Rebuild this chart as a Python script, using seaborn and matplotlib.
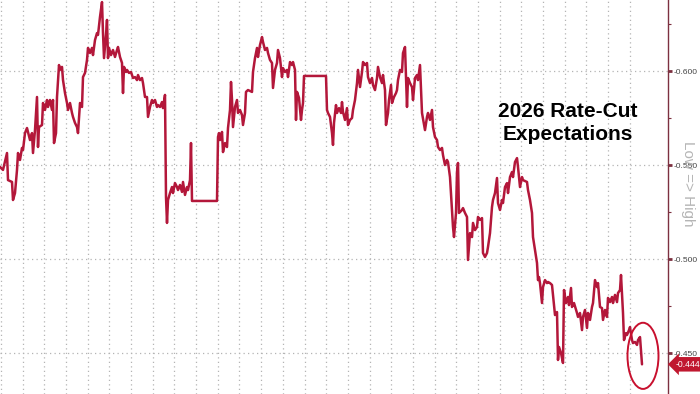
import numpy as np
import pandas as pd
import matplotlib
matplotlib.use("Agg")
import matplotlib.pyplot as plt
import matplotlib.transforms as mtransforms
from matplotlib.patches import Ellipse
from matplotlib.ticker import FixedLocator, FuncFormatter
import seaborn as sns

# ---------------- data (trading-session index, implied 2026 rate-cut expectation) ----------------
session = [
    0, 3, 7, 8, 12, 13, 15, 17, 18, 20, 22, 23, 25, 27, 28, 30, 32, 33, 35, 37, 38, 39, 42, 43, 45,
    47, 48, 50, 52, 53, 54, 56, 57, 59, 60, 62, 63, 65, 67, 68, 70, 72, 73, 75, 77, 78, 80, 82, 83, 85,
    87, 88, 90, 92, 93, 95, 97, 98, 100, 102, 103, 104, 106, 107, 108, 109, 111, 113, 115, 117, 118, 120,
    122, 123, 124, 126, 127, 129, 131, 133, 135, 137, 138, 140, 142, 143, 145, 147, 148, 150, 152, 153,
    155, 157, 158, 160, 162, 163, 165, 166, 167, 168, 170, 172, 173, 175, 177, 178, 180, 182, 183, 185,
    187, 188, 190, 191, 192, 217, 218, 219, 220, 222, 223, 225, 227, 228, 230, 231, 232, 233, 235, 237,
    238, 240, 242, 243, 245, 246, 248, 252, 253, 255, 257, 258, 260, 262, 263, 265, 267, 268, 270, 272,
    273, 275, 277, 278, 280, 282, 283, 285, 287, 288, 290, 292, 293, 295, 296, 297, 299, 301, 302, 303,
    304, 326, 327, 328, 330, 332, 333, 334, 336, 337, 339, 341, 342, 343, 345, 347, 348, 350, 352, 353,
    355, 357, 358, 360, 362, 363, 365, 367, 368, 370, 372, 373, 375, 377, 378, 380, 382, 383, 385, 386,
    388, 389, 391, 392, 394, 396, 397, 398, 400, 402, 403, 405, 407, 408, 410, 412, 413, 415, 417, 418,
    420, 421, 422, 425, 427, 428, 430, 432, 433, 435, 437, 438, 440, 442, 443, 445, 447, 448, 450, 452,
    453, 454, 456, 457, 458, 459, 460, 462, 463, 465, 467, 468, 470, 472, 473, 475, 477, 478, 480, 482,
    483, 485, 487, 488, 490, 492, 493, 495, 497, 498, 500, 502, 503, 505, 507, 508, 510, 512, 513, 515,
    517, 518, 520, 522, 523, 527, 528, 530, 532, 533, 535, 537, 538, 539, 540, 542, 543, 545, 547, 548,
    550, 552, 553, 555, 557, 558, 559, 561, 563, 564, 566, 568, 569, 571, 572, 574, 577, 578, 580, 582,
    583, 585, 587, 588, 590, 592, 593, 595, 597, 598, 600, 602, 603, 605, 607, 608, 610, 612, 613, 615,
    617, 618, 620, 621, 622, 623, 624, 626, 627, 629, 630, 632, 633, 635, 637, 638, 640, 641, 642,
]
expectation = [
    -0.5490, -0.5474, -0.5564, -0.5420, -0.5410, -0.5314, -0.5351, -0.5474, -0.5564, -0.5527, -0.5591,
    -0.5580, -0.5670, -0.5697, -0.5676, -0.5633, -0.5670, -0.5564, -0.5686, -0.5862, -0.5596, -0.5702,
    -0.5713, -0.5830, -0.5793, -0.5846, -0.5809, -0.5846, -0.5793, -0.5846, -0.5617, -0.5670, -0.5862,
    -0.6032, -0.6006, -0.6022, -0.5952, -0.5883, -0.5830, -0.5793, -0.5830, -0.5777, -0.5756, -0.5724,
    -0.5702, -0.5670, -0.5830, -0.5809, -0.5968, -0.5990, -0.6059, -0.6123, -0.6096, -0.6123, -0.6085,
    -0.6165, -0.6202, -0.6192, -0.6288, -0.6367, -0.6202, -0.6069, -0.6192, -0.6272, -0.6069, -0.6123,
    -0.6085, -0.6112, -0.6075, -0.6112, -0.6128, -0.6075, -0.6043, -0.5883, -0.6022, -0.5995, -0.6006,
    -0.5990, -0.5995, -0.5963, -0.5968, -0.5952, -0.5979, -0.5952, -0.5963, -0.5936, -0.5862, -0.5862,
    -0.5756, -0.5809, -0.5846, -0.5830, -0.5846, -0.5809, -0.5819, -0.5809, -0.5835, -0.5803, -0.5873,
    -0.5330, -0.5192, -0.5314, -0.5351, -0.5383, -0.5351, -0.5404, -0.5383, -0.5367, -0.5394, -0.5357,
    -0.5410, -0.5341, -0.5383, -0.5367, -0.5420, -0.5617, -0.5309, -0.5309, -0.5649, -0.5670, -0.5633,
    -0.5676, -0.5569, -0.5617, -0.5596, -0.5697, -0.5793, -0.5942, -0.5846, -0.5702, -0.5809, -0.5846,
    -0.5777, -0.5793, -0.5766, -0.5713, -0.5777, -0.5889, -0.5899, -0.5889, -0.5995, -0.6069, -0.6123,
    -0.6075, -0.6139, -0.6181, -0.6155, -0.6112, -0.6123, -0.6096, -0.6059, -0.6043, -0.5910, -0.6006,
    -0.6043, -0.6112, -0.6069, -0.5968, -0.6016, -0.5995, -0.6006, -0.5968, -0.6048, -0.6032, -0.6048,
    -0.6006, -0.5740, -0.5889, -0.5857, -0.5740, -0.5793, -0.5830, -0.5974, -0.5974, -0.5793, -0.5777,
    -0.5756, -0.5670, -0.5607, -0.5724, -0.5819, -0.5777, -0.5803, -0.5777, -0.5835, -0.5782, -0.5740,
    -0.5803, -0.5713, -0.5740, -0.5750, -0.5793, -0.5846, -0.5936, -0.6006, -0.5915, -0.5995, -0.6048,
    -0.6032, -0.6043, -0.5968, -0.5936, -0.5963, -0.5926, -0.5899, -0.5963, -0.6022, -0.5968, -0.5936,
    -0.5979, -0.5899, -0.5713, -0.5777, -0.5846, -0.5926, -0.5830, -0.5862, -0.5883, -0.5899, -0.5952,
    -0.6006, -0.5995, -0.6096, -0.6128, -0.5809, -0.5963, -0.5936, -0.5915, -0.5846, -0.5963, -0.5979,
    -0.5952, -0.6032, -0.5899, -0.5777, -0.5686, -0.5756, -0.5777, -0.5740, -0.5793, -0.5702, -0.5649,
    -0.5633, -0.5596, -0.5580, -0.5591, -0.5553, -0.5500, -0.5527, -0.5516, -0.5436, -0.5261, -0.5170,
    -0.5117, -0.5245, -0.5463, -0.5511, -0.5245, -0.5250, -0.5261, -0.5271, -0.5245, -0.5224, -0.4995,
    -0.5138, -0.5117, -0.5192, -0.5154, -0.5170, -0.5224, -0.5208, -0.5218, -0.5032, -0.5011, -0.5032,
    -0.5064, -0.5138, -0.5277, -0.5314, -0.5351, -0.5431, -0.5298, -0.5261, -0.5314, -0.5298, -0.5383,
    -0.5404, -0.5351, -0.5436, -0.5463, -0.5436, -0.5516, -0.5537, -0.5490, -0.5383, -0.5436, -0.5420,
    -0.5410, -0.5367, -0.5314, -0.5245, -0.5117, -0.5048, -0.4979, -0.4888, -0.4904, -0.4872, -0.4766,
    -0.4851, -0.4888, -0.4872, -0.4878, -0.4872, -0.4862, -0.4809, -0.4702, -0.4718, -0.4463, -0.4532,
    -0.4500, -0.4447, -0.4835, -0.4766, -0.4798, -0.4755, -0.4846, -0.4745, -0.4766, -0.4713, -0.4692,
    -0.4713, -0.4622, -0.4692, -0.4729, -0.4633, -0.4713, -0.4676, -0.4745, -0.4766, -0.4888, -0.4851,
    -0.4872, -0.4745, -0.4739, -0.4676, -0.4729, -0.4692, -0.4793, -0.4771, -0.4798, -0.4766, -0.4809,
    -0.4771, -0.4819, -0.4835, -0.4915, -0.4819, -0.4713, -0.4569, -0.4606, -0.4596, -0.4622, -0.4638,
    -0.4569, -0.4553, -0.4559, -0.4543, -0.4569, -0.4585, -0.4516, -0.4440,
]
y_ticks = [-0.600, -0.550, -0.500, -0.450]
title_text = "2026 Rate-Cut\nExpectations"
axis_note = "Low => High"

df = pd.DataFrame({"session": session, "expectation": expectation})

# ---------------- style ----------------
LINE = "#b3173a"
GRID = "#b4b4b4"
SPINE = "#7d3040"

sns.set_theme(style="white")
plt.rcParams["font.family"] = ["Liberation Sans", "DejaVu Sans"]

fig = plt.figure(figsize=(7.0, 3.94), dpi=100)
ax = fig.add_axes([0.0, 0.0, 668 / 700, 1.0])
ax.set_facecolor("white")

# grid lines (monthly verticals, dotted)
for gx in np.arange(1.0, 640, 21.68):
    ax.axvline(gx, color=GRID, lw=0.9, ls=(0, (1, 2.6)), zorder=0)
for gy in y_ticks:
    ax.axhline(gy, color=GRID, lw=0.9, ls=(0, (1, 2.6)), zorder=0)

sns.lineplot(data=df, x="session", y="expectation", ax=ax, color=LINE,
             lw=1.8, estimator=None, sort=False, zorder=3)

ax.set_xlim(0, 668)
ax.set_ylim(-0.4282, -0.6378)   # inverted: Low => High
ax.set_xlabel("")
ax.set_ylabel("")
ax.set_xticks([])

ax.yaxis.tick_right()
ax.yaxis.set_major_locator(FixedLocator(y_ticks))
ax.yaxis.set_minor_locator(FixedLocator([-0.625, -0.575, -0.525, -0.475]))
ax.yaxis.set_major_formatter(FuncFormatter(lambda v, p: f"{v:.3f}"))
ax.tick_params(axis="y", which="major", right=True, left=False, direction="out",
               length=3, width=2.0, color=SPINE, labelsize=6.0, labelcolor="#444444", pad=1.2)
ax.tick_params(axis="y", which="minor", right=True, left=False, direction="out",
               length=2.2, width=0.8, color=SPINE)

for s in ["left", "top", "bottom"]:
    ax.spines[s].set_visible(False)
ax.spines["right"].set_color(SPINE)
ax.spines["right"].set_linewidth(1.0)

# title inside the plot
ax.text(568 / 668, 1 - 123 / 394, title_text, transform=ax.transAxes, ha="center", va="center",
        fontsize=15, fontweight="bold", color="black", linespacing=1.25, zorder=5)

# axis note
fig.text(688 / 700, 1 - 184 / 394, axis_note, rotation=-90, ha="center", va="center",
         fontsize=11, color="#b5b5b5")

# last-value label box
last_x, last_v = session[-1], expectation[-1]
trans = mtransforms.blended_transform_factory(ax.transAxes, ax.transData)
ax.text(1.012, last_v, f"{last_v:.3f}", transform=trans, ha="left", va="center",
        fontsize=6.2, color="white", clip_on=False, zorder=6,
        bbox=dict(boxstyle="larrow,pad=0.32", fc="#c0182f", ec="none"))

# red circle highlighting the latest move
ax.add_patch(Ellipse((last_x + 1, last_v - 0.0045), width=31, height=0.0352,
                     fill=False, ec="#c8102e", lw=1.4, zorder=4))

fig.savefig("out.png", dpi=100)
